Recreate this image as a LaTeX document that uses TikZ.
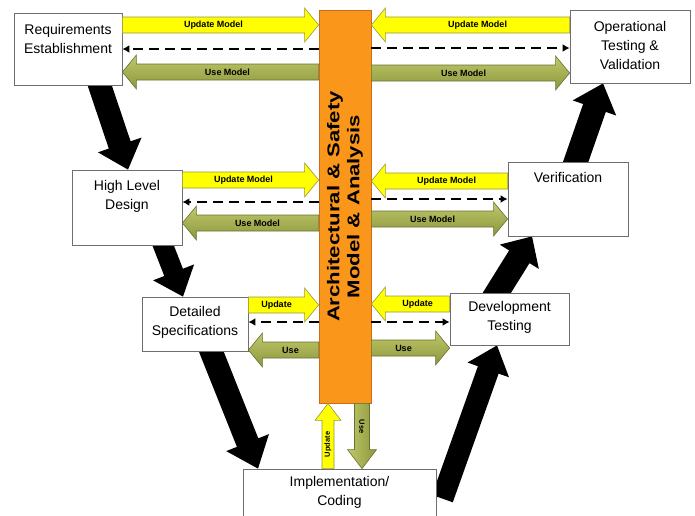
\documentclass[tikz,border=0pt]{standalone}
\usepackage{fontspec}
\setmainfont{Liberation Sans}
\usetikzlibrary{calc,arrows.meta,backgrounds}

\definecolor{barorange}{RGB}{250,150,25}
\definecolor{baredge}{RGB}{200,110,25}
\definecolor{updyellow}{RGB}{255,255,0}
\definecolor{updedge}{RGB}{150,150,70}
\definecolor{useoliveT}{RGB}{192,200,108}
\definecolor{useoliveB}{RGB}{140,150,58}
\definecolor{useedge}{RGB}{105,112,48}
\definecolor{boxedge}{RGB}{110,110,110}

% Block arrow: style, tail, tip, half shaft width, half head width, head length, name
\newcommand\blockarrow[7]{%
  \coordinate (#7-s) at (#2);
  \coordinate (#7-e) at (#3);
  \coordinate (#7-b) at ($(#7-e)!#6!(#7-s)$);
  \coordinate (#7-m) at ($(#7-s)!0.5!(#7-b)$);
  \path[#1] ($(#7-s)!#4!90:(#7-e)$) -- ($(#7-b)!#4!90:(#7-e)$)
    -- ($(#7-b)!#5!90:(#7-e)$) -- (#7-e) -- ($(#7-b)!#5!-90:(#7-e)$)
    -- ($(#7-b)!#4!-90:(#7-e)$) -- ($(#7-s)!#4!-90:(#7-e)$) -- cycle;
}

\begin{document}
\begin{tikzpicture}[x=1pt,y=-1pt,
  box/.style={draw=boxedge, fill=white, line width=0.8pt, inner sep=0pt},
  boxtext/.style={align=center, inner sep=0pt, font=\fontsize{14}{19}\selectfont},
  bar/.style={draw=baredge, fill=barorange, line width=0.8pt, inner sep=0pt,
    minimum width=52pt, minimum height=393pt},
  yarrow/.style={draw=updedge, fill=updyellow, line width=0.6pt},
  oarrow/.style={draw=useedge, top color=useoliveT, bottom color=useoliveB, line width=0.6pt},
  oarrowv/.style={draw=useedge, left color=useoliveT, right color=useoliveB, line width=0.6pt},
  fat/.style={fill=black},
  lbl/.style={inner sep=0pt, font=\bfseries\fontsize{9}{10}\selectfont},
  vlbl/.style={inner sep=0pt, font=\bfseries\fontsize{7.5}{9}\selectfont},
  dasharr/.style={draw=black, line width=2.4pt, dash pattern=on 10pt off 6pt,
    -{Latex[length=7pt,width=8pt]}}
]
\useasboundingbox (0,0) rectangle (695,515);
\clip (0,0) rectangle (695,515);

% phase boxes
\node[box, minimum width=108pt, minimum height=72pt] (req) at (68,49) {};
\node[boxtext] (req-t) at (68,39) {Requirements\\Establishment};
\node[box, minimum width=120pt, minimum height=73pt] (op) at (630,46.5) {};
\node[boxtext] (op-t) at (630,45) {Operational\\Testing \&\\Validation};
\node[box, minimum width=110pt, minimum height=75pt] (hld) at (127,207.5) {};
\node[boxtext] (hld-t) at (127,196) {High Level\\Design};
\node[box, minimum width=120pt, minimum height=74pt] (ver) at (568,199) {};
\node[boxtext] (ver-t) at (568,177) {Verification};
\node[box, minimum width=106pt, minimum height=54pt] (ds) at (195,324) {};
\node[boxtext] (ds-t) at (195,322) {Detailed\\Specifications};
\node[box, minimum width=119pt, minimum height=52pt] (dt) at (509.5,319) {};
\node[boxtext] (dt-t) at (509.5,317.5) {Development\\Testing};
\node[box, minimum width=193pt, minimum height=71pt] (impl) at (339.5,504.5) {};
\node[boxtext] (impl-t) at (339.5,492.5) {Implementation/\\Coding};

% central model bar
\node[bar] (bar) at (345,206.5) {};
\node[rotate=90, align=center, inner sep=0pt,
  font=\bfseries\fontsize{17}{20}\selectfont] (bar-t) at (bar.center)
  {\scalebox{1.3}[1]{Architectural \& Safety}\\\scalebox{1.3}[1]{Model \& Analysis}};

% V-model flow arrows
\begin{scope}[on background layer]
  \blockarrow{fat}{$(req.south -| 97,0)+(0,-8)$}{hld.north -| 128,0}{11.5pt}{23pt}{26pt}{f1}
  \blockarrow{fat}{$(hld.south -| 160,0)+(0,-8)$}{ds.north -| 183,0}{10pt}{22pt}{26pt}{f2}
  \blockarrow{fat}{$(ds.south -| 208,0)+(0,-8)$}{impl.north -| 258,0}{11.5pt}{23pt}{28pt}{f3}
  \coordinate (f4-tail) at ($(impl.north east)+(6,30)$);
  \blockarrow{fat}{f4-tail}{dt.south -| 497,0}{11pt}{22pt}{26pt}{f4}
  \blockarrow{fat}{$(dt.north -| 492,0)+(0,8)$}{ver.south -| 532,0}{12pt}{23pt}{24pt}{f6}
  \blockarrow{fat}{$(ver.north -| 573,0)+(0,8)$}{op.south -| 603,0}{12pt}{23pt}{26pt}{f5}
\end{scope}

% row 1
\blockarrow{yarrow}{req.east |- 0,25}{bar.west |- 0,25}{8pt}{17pt}{14pt}{a1}
\node[lbl] (a1-t) at (a1-m) {Update Model};
\draw[dasharr] (bar.west |- 0,49) -- (req.east |- 0,49);
\blockarrow{oarrow}{bar.west |- 0,72}{req.east |- 0,72}{8pt}{17pt}{14pt}{a2}
\node[lbl] (a2-t) at (a2-m) {Use Model};
\blockarrow{yarrow}{op.west |- 0,25}{bar.east |- 0,25}{8pt}{17pt}{14pt}{a3}
\node[lbl] (a3-t) at (a3-m) {Update Model};
\draw[dasharr] (bar.east |- 0,48) -- (op.west |- 0,48);
\blockarrow{oarrow}{bar.east |- 0,73}{op.west |- 0,73}{8pt}{17pt}{14pt}{a4}
\node[lbl] (a4-t) at (a4-m) {Use Model};

% row 2
\blockarrow{yarrow}{hld.east |- 0,180}{bar.west |- 0,180}{8pt}{17pt}{14pt}{b1}
\node[lbl] (b1-t) at (b1-m) {Update Model};
\draw[dasharr] (bar.west |- 0,202) -- (hld.east |- 0,202);
\blockarrow{oarrow}{bar.west |- 0,223}{hld.east |- 0,223}{8pt}{17pt}{14pt}{b2}
\node[lbl] (b2-t) at (b2-m) {Use Model};
\blockarrow{yarrow}{ver.west |- 0,181}{bar.east |- 0,181}{8pt}{17pt}{14pt}{b3}
\node[lbl] (b3-t) at (b3-m) {Update Model};
\draw[dasharr] (bar.east |- 0,199) -- (ver.west |- 0,199);
\blockarrow{oarrow}{bar.east |- 0,219}{ver.west |- 0,219}{8pt}{17pt}{14pt}{b4}
\node[lbl] (b4-t) at (b4-m) {Use Model};

% row 3
\blockarrow{yarrow}{ds.east |- 0,305}{bar.west |- 0,305}{8pt}{17pt}{14pt}{c1}
\node[lbl] (c1-t) at (c1-m) {Update};
\draw[dasharr] (bar.west |- 0,322) -- (ds.east |- 0,322);
\blockarrow{oarrow}{bar.west |- 0,350}{ds.east |- 0,350}{8pt}{17pt}{14pt}{c2}
\node[lbl] (c2-t) at (c2-m) {Use};
\blockarrow{yarrow}{dt.west |- 0,304}{bar.east |- 0,304}{8pt}{17pt}{14pt}{c3}
\node[lbl] (c3-t) at (c3-m) {Update};
\draw[dasharr] (bar.east |- 0,322) -- (dt.west |- 0,322);
\blockarrow{oarrow}{bar.east |- 0,348}{dt.west |- 0,348}{8pt}{17pt}{14pt}{c4}
\node[lbl] (c4-t) at (c4-m) {Use};

% implementation link
\blockarrow{yarrow}{impl.north -| 328,0}{bar.south -| 328,0}{6pt}{13pt}{17pt}{d1}
\node[vlbl, rotate=90] (d1-t) at (d1-m) {Update};
\blockarrow{oarrowv}{bar.south -| 362,0}{impl.north -| 362,0}{7.5pt}{14.5pt}{19pt}{d2}
\node[vlbl, rotate=-90] (d2-t) at (d2-m) {Use};
\end{tikzpicture}
\end{document}
